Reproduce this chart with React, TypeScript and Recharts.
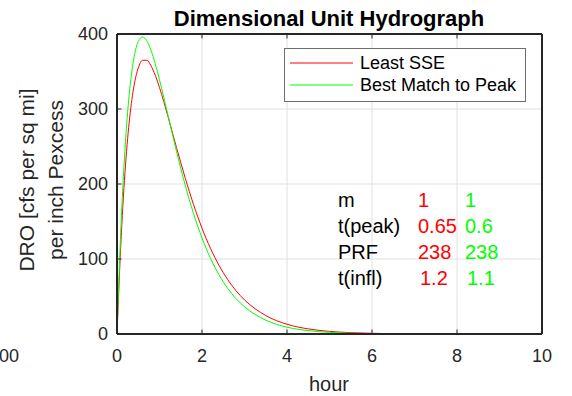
import { LineChart, Line, XAxis, YAxis, CartesianGrid } from "recharts";

const hours = [
  0, 0.1, 0.2, 0.3, 0.4, 0.5, 0.6, 0.7, 0.8, 0.9, 1.0, 1.2, 1.4, 1.6, 1.8, 2.0,
  2.2, 2.4, 2.6, 2.8, 3.0, 3.5, 4.0, 4.5, 5.0, 5.5, 6.0, 7.0, 8.0, 9.0, 10.0,
];
const leastSse = [
  0, 131.2, 225.0, 289.4, 330.9, 354.6, 364.9, 365.0, 357.6, 345.0, 328.6,
  289.9, 248.6, 208.9, 172.8, 141.1, 114.1, 91.5, 72.9, 57.7, 45.5, 24.6, 13.0,
  6.8, 3.5, 1.8, 0.9, 0.2, 0.05, 0.01, 0,
];
const bestPeak = [
  0, 151.9, 257.1, 326.4, 368.4, 389.9, 396.0, 391.1, 378.3, 360.3, 338.8,
  291.4, 243.6, 199.5, 160.8, 128.0, 100.9, 78.9, 61.2, 47.2, 36.3, 18.4, 9.1,
  4.5, 2.2, 1.0, 0.5, 0.1, 0.02, 0, 0,
];
const xTicks = [0, 2, 4, 6, 8, 10];
const yTicks = [0, 100, 200, 300, 400];

const paramRows = [
  { name: "m", sse: "1", peak: "1" },
  { name: "t(peak)", sse: "0.65", peak: "0.6" },
  { name: "PRF", sse: "238", peak: "238" },
  { name: "t(infl)", sse: "1.2", peak: "1.1" },
];

const data = hours.map((h, i) => ({
  hour: h,
  sse: leastSse[i],
  peak: bestPeak[i],
}));

const W = 572;
const H = 396;
const LEFT = 117;
const RIGHT = 542;
const TOP = 34;
const BOTTOM = 334;
const FONT = '"Liberation Sans", Arial, Helvetica, sans-serif';
const INK = "#262626";
const TICK_LEN = 4.5;
const AXIS_LINE = { stroke: INK, strokeWidth: 2 };

const BottomTick = (props: any) => {
  const { x, payload } = props;
  return (
    <g>
      <line x1={x} x2={x} y1={BOTTOM} y2={BOTTOM - TICK_LEN} stroke={INK} />
      <text
        x={x}
        y={362}
        textAnchor="middle"
        fontSize={18}
        fontFamily={FONT}
        fill={INK}
      >
        {payload.value}
      </text>
    </g>
  );
};

const TopTick = (props: any) => {
  const { x } = props;
  return <line x1={x} x2={x} y1={TOP} y2={TOP + TICK_LEN} stroke={INK} />;
};

const LeftTick = (props: any) => {
  const { y, payload } = props;
  return (
    <g>
      <line x1={LEFT} x2={LEFT + TICK_LEN} y1={y} y2={y} stroke={INK} />
      <text
        x={108}
        y={y}
        textAnchor="end"
        dominantBaseline="central"
        fontSize={18}
        fontFamily={FONT}
        fill={INK}
      >
        {payload.value}
      </text>
    </g>
  );
};

const RightTick = (props: any) => {
  const { y } = props;
  return <line x1={RIGHT} x2={RIGHT - TICK_LEN} y1={y} y2={y} stroke={INK} />;
};

export default function App() {
  return (
    <div
      style={{
        position: "fixed",
        left: 0,
        top: 0,
        width: W,
        height: H,
        background: "#fff",
      }}
    >
      <LineChart
        width={W}
        height={H}
        data={data}
        margin={{ top: 0, right: 0, bottom: 0, left: 0 }}
      >
        <CartesianGrid stroke="#e0e0e0" />
        <XAxis
          dataKey="hour"
          type="number"
          domain={[0, 10]}
          ticks={xTicks}
          height={H - BOTTOM}
          tick={<BottomTick />}
          axisLine={AXIS_LINE}
          tickLine={false}
        />
        <XAxis
          xAxisId="top"
          orientation="top"
          dataKey="hour"
          type="number"
          domain={[0, 10]}
          ticks={xTicks}
          height={TOP}
          tick={<TopTick />}
          axisLine={AXIS_LINE}
          tickLine={false}
        />
        <YAxis
          type="number"
          domain={[0, 400]}
          ticks={yTicks}
          width={LEFT}
          tick={<LeftTick />}
          axisLine={AXIS_LINE}
          tickLine={false}
        />
        <YAxis
          yAxisId="right"
          orientation="right"
          type="number"
          domain={[0, 400]}
          ticks={yTicks}
          width={W - RIGHT}
          tick={<RightTick />}
          axisLine={AXIS_LINE}
          tickLine={false}
        />
        <Line
          type="monotone"
          dataKey="sse"
          name="Least SSE"
          stroke="#ff0000"
          strokeWidth={1}
          dot={false}
          isAnimationActive={false}
        />
        <Line
          type="monotone"
          dataKey="peak"
          name="Best Match to Peak"
          stroke="#00ff00"
          strokeWidth={1}
          dot={false}
          isAnimationActive={false}
        />
      </LineChart>
      <svg
        width={W}
        height={H}
        style={{ position: "absolute", left: 0, top: 0, pointerEvents: "none" }}
      >
        <text
          x={329}
          y={18}
          textAnchor="middle"
          dominantBaseline="central"
          fontSize={22}
          fontWeight="bold"
          fontFamily={FONT}
          fill="#000"
        >
          Dimensional Unit Hydrograph
        </text>
        <text x={329} y={391} textAnchor="middle" fontSize={20} fontFamily={FONT} fill={INK}>
          hour
        </text>
        <g fontSize={21} fontFamily={FONT} fill={INK} textAnchor="middle">
          <text x={33.5} y={180} transform="rotate(-90 33.5 180)">
            DRO [cfs per sq mi]
          </text>
          <text x={63} y={180} transform="rotate(-90 63 180)">
            per inch Pexcess
          </text>
        </g>
        <text x={19} y={362} textAnchor="end" fontSize={18} fontFamily={FONT} fill={INK}>
          00
        </text>
        <g fontFamily={FONT} fontSize={18}>
          <rect x={284.5} y={48.5} width={241} height={53} fill="#fff" stroke="#6e6e6e" />
          <line x1={290} x2={353} y1={63} y2={63} stroke="#ff0000" />
          <line x1={290} x2={353} y1={85} y2={85} stroke="#00ff00" />
          <text x={360} y={63} dominantBaseline="central" fill="#000">
            Least SSE
          </text>
          <text x={360} y={85} dominantBaseline="central" fill="#000">
            Best Match to Peak
          </text>
        </g>
        {paramRows.map((r, i) => {
          const y = 200 + i * 26;
          return (
            <g key={r.name} fontSize={20} fontFamily={FONT} dominantBaseline="central">
              <text x={338} y={y} fill="#000">
                {r.name}
              </text>
              <text x={i === 3 ? 420 : 418} y={y} fill="#ff0000">
                {r.sse}
              </text>
              <text x={i === 3 ? 467 : 465} y={y} fill="#00ff00">
                {r.peak}
              </text>
            </g>
          );
        })}
      </svg>
    </div>
  );
}
